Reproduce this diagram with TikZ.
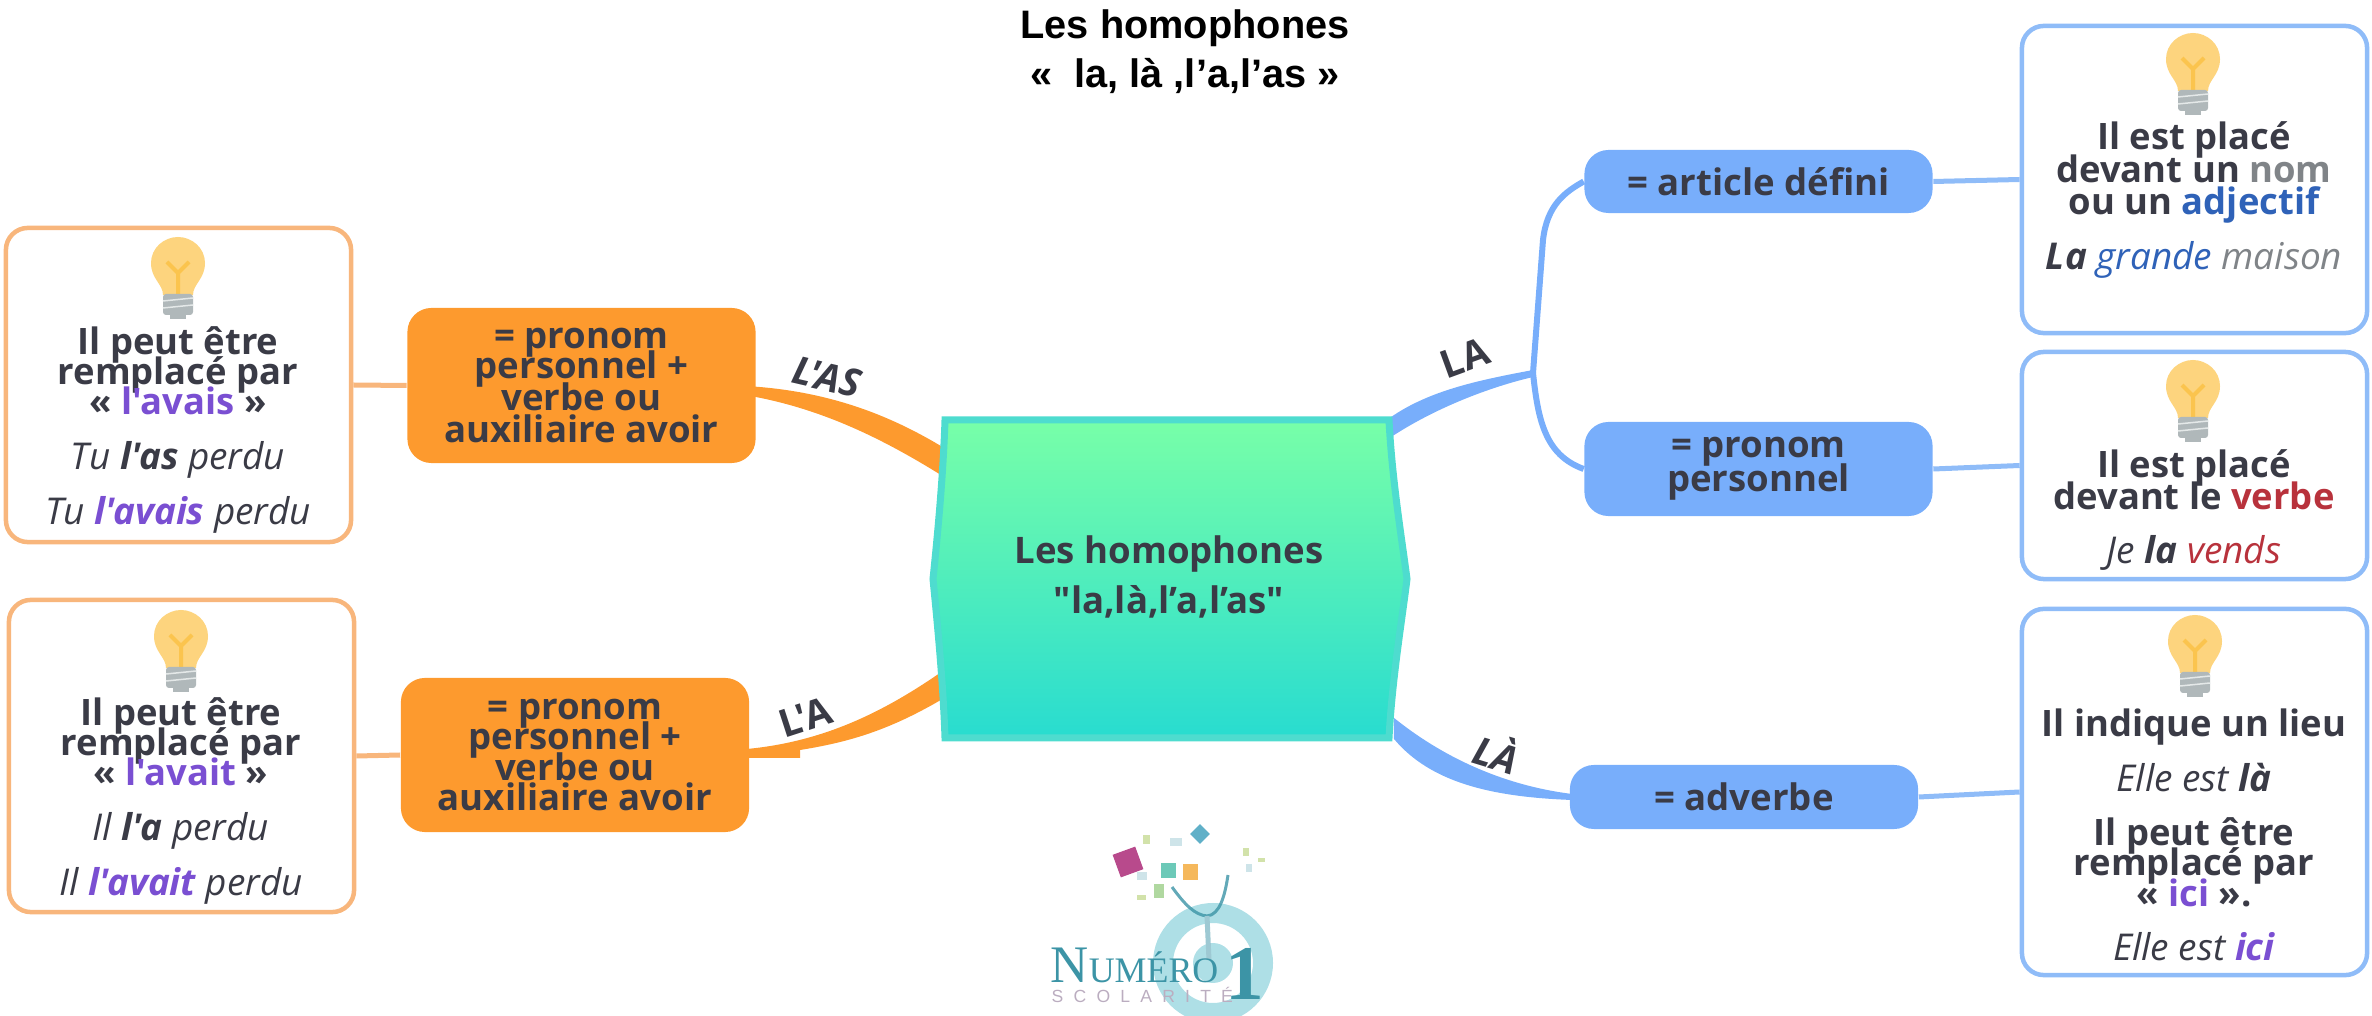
\documentclass[tikz,border=0pt]{standalone}
\usepackage{fontspec}
\setmainfont{Open Sans}[Ligatures=TeXOff]
\newfontfamily\titlefont{Liberation Sans}
\newfontfamily\logoserif{Liberation Serif}
\newfontfamily\logospaced{Liberation Sans}[LetterSpace=58]
\usepackage{xcolor}
\usetikzlibrary{calc,backgrounds}
\setlength{\lineskiplimit}{-20pt}
\definecolor{inkgrey}{HTML}{3A3B46}
\definecolor{branchorange}{HTML}{FD9A2E}
\definecolor{noteorange}{HTML}{F8B67C}
\definecolor{branchblue}{HTML}{78AEFB}
\definecolor{noteblue}{HTML}{8FBCF8}
\definecolor{hubtop}{HTML}{78FFA8}
\definecolor{hubbottom}{HTML}{28DCD0}
\definecolor{hubedge}{HTML}{4EDCCF}
\definecolor{violetword}{HTML}{7A4FD2}
\definecolor{blueword}{HTML}{2F62B8}
\definecolor{redword}{HTML}{B8323C}
\definecolor{greyword}{HTML}{808488}
\definecolor{logoteal}{HTML}{3C94A6}
\definecolor{logoring}{HTML}{AEDFE6}
\definecolor{logomauve}{HTML}{BBADC0}
\newcommand{\exline}[1]{{\fontsize{10.5}{8.55}\selectfont\mdseries\itshape #1}}
\tikzset{
  notebox/.style={
    rectangle, draw=#1, fill=white, line width=0.045cm,
    rounded corners=0.22cm, inner sep=0pt, minimum width=3.45cm
  },
  notebox/.default=noteblue,
  notetext/.style={
    font=\fontsize{10.35}{8.55}\selectfont\bfseries, color=inkgrey,
    align=center, inner sep=0pt
  },
  branchbox/.style={
    rectangle, fill=#1, rounded corners=0.24cm, inner sep=0pt,
    minimum width=3.48cm, text=inkgrey, align=center,
    font=\fontsize{10.4}{8.55}\selectfont\bfseries
  },
  branchbox/.default=branchblue,
  branchname/.style={
    font=\fontsize{11}{12}\selectfont\bfseries, color=inkgrey, inner sep=0pt
  },
  thinlink/.style={draw=#1, line width=0.05cm},
  thinlink/.default=noteblue,
  lamp/.pic={
    \fill[color={rgb,255:red,253;green,212;blue,126}] (-15,58) .. controls (-15,47) and (-27,42) .. (-27,26)
      .. controls (-27,11) and (-14,0) .. (0,0) .. controls (14,0) and (27,11) .. (27,26)
      .. controls (27,42) and (15,47) .. (15,58) -- cycle;
    \draw[color={rgb,255:red,251;green,196;blue,78}, line width=0.04cm] (0,58) -- (0,36) -- (-11,25) (0,36) -- (11,25);
    \fill[color={rgb,255:red,176;green,184;blue,186}, rounded corners=0.03cm] (-15,57) rectangle (15,78);
    \fill[color={rgb,255:red,176;green,184;blue,186}] (-8,78) rectangle (8,82);
    \draw[color={rgb,255:red,228;green,232;blue,232}, line width=0.015cm] (-15,64) -- (15,61) (-15,71) -- (15,68);
  }
}
\begin{document}
\begin{tikzpicture}[x=0.01cm,y=-0.01cm]
  \useasboundingbox (0,0) rectangle (2372,1016);

  % Title
  \node[font=\titlefont\fontsize{11.3}{14}\selectfont\bfseries, color=black, align=center, inner sep=0pt]
    (title) at (1185,52) {Les homophones\\«\ \ la, là ,l’a,l’as »};

  % Central shape
  \draw[hubedge, line width=0.07cm, top color=hubtop, bottom color=hubbottom]
    (1167,420) -- (1389,420) .. controls (1392,480) and (1402,540) .. (1407,579)
    .. controls (1402,620) and (1392,680) .. (1389,738) -- (945,738)
    .. controls (943,680) and (937,620) .. (933,579)
    .. controls (937,540) and (943,480) .. (945,420) -- cycle;
  \node[inner sep=0pt, minimum width=4.44cm, minimum height=3.18cm] (hub) at (1167,579) {};
  \node[font=\fontsize{10.4}{14.2}\selectfont\bfseries, color=inkgrey, align=center, inner sep=0pt]
    (hubtext) at (1169,577) {Les homophones\\"la,là,l’a,l’as"};

  % Left side boxes
  \node[branchbox=branchorange, minimum height=1.55cm] (orangeA) at (581.5,385.5)
    {= pronom\\personnel +\\[0.6pt]verbe ou\\[0.6pt]auxiliaire avoir};
  \node[branchbox=branchorange, minimum height=1.54cm] (orangeB) at (575,755)
    {= pronom\\personnel +\\verbe ou\\auxiliaire avoir};
  \node[notebox=noteorange, minimum height=3.14cm] (noteA) at (178.5,385) {};
  \node[notebox=noteorange, minimum height=3.12cm] (noteB) at (181.5,756) {};
  \pic at (178,237) {lamp};
  \pic at (181,610) {lamp};
  \node[notetext] (textA) at (178,430) {Il peut être\\remplacé par\\« \textcolor{violetword}{l'avais} »\\[7pt]
    \exline{Tu \textbf{l'as} perdu}\\[7pt]\exline{Tu \textbf{\textcolor{violetword}{l'avais}} perdu}};
  \node[notetext] (textB) at (181,801) {Il peut être\\remplacé par\\« \textcolor{violetword}{l'avait} »\\[7pt]
    \exline{Il \textbf{l'a} perdu}\\[7pt]\exline{Il \textbf{\textcolor{violetword}{l'avait}} perdu}};

  % Right side boxes
  \node[branchbox, minimum height=0.63cm] (blueA) at (1758.5,181.5) {= article défini};
  \node[branchbox, minimum height=0.94cm] (blueB) at (1758.5,469) {= pronom\\[1pt]personnel};
  \node[branchbox, minimum height=0.64cm] (blueC) at (1744,797) {= adverbe};
  \node[notebox, minimum height=3.07cm] (noteC) at (2194.5,179.5) {};
  \node[notebox, minimum height=2.27cm] (noteD) at (2194.5,465.5) {};
  \node[notebox, minimum height=3.66cm] (noteE) at (2194.5,792) {};
  \pic at (2193,33) {lamp};
  \pic at (2193,360) {lamp};
  \pic at (2195,615) {lamp};
  \node[notetext] (textC) at (2194,200) {Il est placé\\[0.6pt]devant un \textcolor{greyword}{nom}\\[0.6pt]ou un \textcolor{blueword}{adjectif}\\[7pt]
    \exline{\textbf{La} \textcolor{blueword}{grande} \textcolor{greyword}{maison}}};
  \node[notetext] (textD) at (2194,510) {Il est placé\\[0.6pt]devant le \textcolor{redword}{verbe}\\[7pt]
    \exline{Je \textbf{la} \textcolor{redword}{vends}}};
  \node[notetext] (textE) at (2194,835) {Il indique un lieu\\[7pt]\exline{Elle est \textbf{là}}\\[7pt]
    Il peut être\\remplacé par\\« \textcolor{violetword}{ici} ».\\[7pt]
    \exline{Elle est \textbf{\textcolor{violetword}{ici}}}};

  % Connectors
  \coordinate (fork) at (1533,373);
  \begin{pgfonlayer}{background}
    \fill[branchorange] ($(orangeA.east)+(-3,1)$) .. controls (830,392) and (890,415) .. ($(hub.west)+(0,-131)$)
      -- ($(hub.west)+(0,-102)$) .. controls (885,440) and (825,410) .. ($(orangeA.east)+(-3,11)$) -- cycle;
    \fill[branchorange] ($(orangeB.east)+(-3,-6)$) .. controls (820,742) and (880,715) .. ($(hub.west)+(0,91)$)
      -- ($(hub.west)+(0,119)$) .. controls (890,730) and (850,742) .. (800,750) -- (800,758)
      -- ($(orangeB.east)+(-3,3)$) -- cycle;
    \fill[branchblue] ($(hub.north east)+(1,-2)$) .. controls (1430,390) and (1480,380) .. ($(fork)+(0,-3)$)
      -- ($(fork)+(0,4)$) .. controls (1490,387) and (1435,408) .. ($(hub.north east)+(1,18)$) -- cycle;
    \fill[branchblue] ($(hub.south east)+(4,-21)$) .. controls (1440,755) and (1500,785) .. ($(blueC.west)+(3,-3)$)
      -- ($(blueC.west)+(3,3)$) .. controls (1490,797) and (1430,782) .. ($(hub.south east)+(4,0)$) -- cycle;
    \draw[thinlink=branchblue, line width=0.06cm] (fork) -- (1543,240) .. controls (1547,205) and (1565,192) .. (blueA.west);
    \draw[thinlink=branchblue, line width=0.06cm] (fork) .. controls (1538,420) and (1545,455) .. (blueB.west);
    \draw[thinlink=noteorange] (orangeA.west) -- (noteA.east);
    \draw[thinlink=noteorange] (orangeB.west) -- (noteB.east);
    \draw[thinlink] (blueA.east) -- (noteC.west);
    \draw[thinlink] (blueB.east) -- (noteD.west);
    \draw[thinlink] (blueC.east) -- (noteE.west);
  \end{pgfonlayer}
  \node[branchname, rotate=20] (labelLA) at (1465,358) {LA};
  \node[branchname, rotate=-17, font=\fontsize{11}{12}\selectfont\bfseries\itshape] (labelLaccent) at (1497,752) {LÀ};
  \node[branchname, rotate=-13, font=\fontsize{11}{12}\selectfont\bfseries\itshape] (labelLAS) at (827,377) {L'AS};
  \node[branchname, rotate=18] (labelLApos) at (805,717) {L'A};

  % Logo
  \draw[logoring, line width=0.2cm] (1213,963) circle (50);
  \fill[logoring] (1213,963) circle (20);
  \draw[logoteal, line width=0.03cm, opacity=0.8] (1172,887) .. controls (1185,905) and (1195,915) .. (1207,916)
    .. controls (1220,915) and (1225,895) .. (1228,875);
  \draw[logoteal!50, line width=0.05cm] (1207,916) -- (1209,960);
  \fill[color={rgb,255:red,184;green,74;blue,140}, rotate around={20:(1128,862)}] (1116,850) rectangle (1140,874);
  \fill[color={rgb,255:red,108;green,201;blue,184}] (1161,863) rectangle (1176,878);
  \fill[color={rgb,255:red,245;green,184;blue,92}] (1183,864) rectangle (1198,880);
  \fill[color={rgb,255:red,176;green,216;blue,160}] (1154,884) rectangle (1164,898);
  \fill[color={rgb,255:red,96;green,176;blue,200}, rotate around={45:(1200,834)}] (1193,827) rectangle (1207,841);
  \fill[logoteal!25] (1170,838) rectangle (1182,846);
  \fill[logoteal!25] (1137,872) rectangle (1147,880);
  \fill[color={rgb,255:red,210;green,226;blue,170}] (1143,835) rectangle (1150,844);
  \fill[color={rgb,255:red,210;green,226;blue,170}] (1137,895) rectangle (1146,900);
  \fill[color={rgb,255:red,210;green,226;blue,170}] (1243,848) rectangle (1249,856);
  \fill[color={rgb,255:red,210;green,226;blue,170}] (1258,858) rectangle (1265,862);
  \fill[logoteal!25] (1246,864) rectangle (1252,872);
  \node[font=\logoserif, color=logoteal, inner sep=0pt, anchor=base west] (logoname) at (1050,982)
    {{\fontsize{15}{15}\selectfont N}{\fontsize{10.2}{12}\selectfont UMÉRO}};
  \node[font=\logoserif\fontsize{22}{22}\selectfont\bfseries, color=logoteal, inner sep=0pt, anchor=base] (logoone) at (1245,1000) {1};
  \node[font=\logospaced\fontsize{5}{6}\selectfont, color=logomauve, inner sep=0pt, anchor=base west]
    (logosub) at (1051,1002) {SCOLARITÉ};
\end{tikzpicture}
\end{document}
